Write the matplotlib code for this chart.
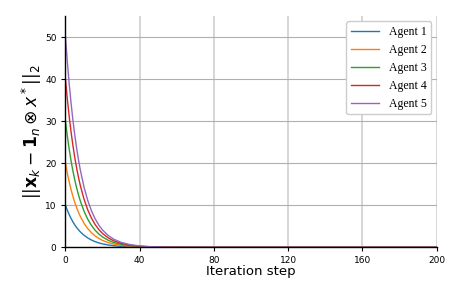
import matplotlib
matplotlib.use("Agg")
import matplotlib.pyplot as plt

# ── Data ──────────────────────────────────────────────────────────────────────
steps = [0, 1, 2, 3, 4, 5, 6, 7, 8, 10, 12, 14, 16, 18, 20, 23, 26, 30, 35,
         40, 45, 50, 60, 70, 80, 100, 140, 200]

agent1 = [10, 8.83, 7.79, 6.87, 6.07, 5.35, 4.72, 4.17, 3.68, 2.87, 2.23, 1.74,
          1.35, 1.05, 0.82, 0.56, 0.39, 0.24, 0.13, 0.07, 0.04, 0.02, 0.01,
          0, 0, 0, 0, 0]
agent2 = [20, 17.65, 15.58, 13.75, 12.13, 10.71, 9.45, 8.34, 7.36, 5.73, 4.46,
          3.48, 2.71, 2.11, 1.64, 1.13, 0.78, 0.47, 0.25, 0.13, 0.07, 0.04,
          0.01, 0, 0, 0, 0, 0]
agent3 = [30, 26.48, 23.36, 20.62, 18.20, 16.06, 14.17, 12.51, 11.04, 8.60,
          6.69, 5.21, 4.06, 3.16, 2.46, 1.69, 1.16, 0.71, 0.38, 0.20, 0.11,
          0.06, 0.02, 0, 0, 0, 0, 0]
agent4 = [40, 35.30, 31.15, 27.49, 24.26, 21.41, 18.90, 16.68, 14.72, 11.46,
          8.92, 6.95, 5.41, 4.22, 3.28, 2.26, 1.55, 0.94, 0.50, 0.27, 0.14,
          0.08, 0.02, 0.01, 0, 0, 0, 0]
agent5 = [50, 44.13, 38.94, 34.37, 30.33, 26.77, 23.62, 20.85, 18.40, 14.33,
          11.16, 8.69, 6.77, 5.27, 4.11, 2.82, 1.94, 1.18, 0.63, 0.34, 0.18,
          0.10, 0.03, 0.01, 0, 0, 0, 0]

labels = ["Agent 1", "Agent 2", "Agent 3", "Agent 4", "Agent 5"]
xticks = [0, 40, 80, 120, 160, 200]
yticks = [0, 10, 20, 30, 40, 50]

# ── Plot ──────────────────────────────────────────────────────────────────────
fig = plt.figure(figsize=(4.71, 2.83), dpi=100)
ax = fig.add_axes([0.139, 0.126, 0.788, 0.817])

for series, lab in zip([agent1, agent2, agent3, agent4, agent5], labels):
    ax.plot(steps, series, linewidth=1.0, label=lab)

ax.set_xlim(0, 200)
ax.set_ylim(0, 55)
ax.set_xticks(xticks)
ax.set_yticks(yticks)
ax.tick_params(labelsize=6.5, length=3, width=0.8)

ax.xaxis.grid(True, color="#d3d3d3", linewidth=1.3, zorder=0)
ax.yaxis.grid(True, color="#b0b0b0", linewidth=0.8, zorder=0)
ax.set_axisbelow(True)

for side in ("top", "right"):
    ax.spines[side].set_visible(False)
for side in ("left", "bottom"):
    ax.spines[side].set_linewidth(1.0)

ax.set_xlabel("Iteration step", fontsize=9.5, labelpad=0)
ax.set_ylabel(r"$||\mathbf{x}_k - \mathbf{1}_n \otimes x^*||_2$", fontsize=12.3, labelpad=1)

ax.legend(loc="upper right", prop={"family": "Liberation Serif", "size": 8.5},
          handlelength=2.4, borderaxespad=0.45, labelspacing=0.5, framealpha=1.0)

fig.savefig("out.png", dpi=100)
